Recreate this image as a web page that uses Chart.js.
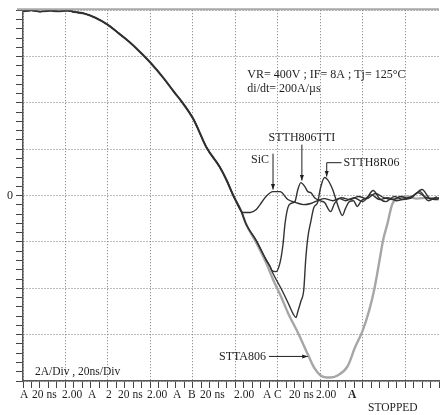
<!DOCTYPE html>
<html>
<head>
<meta charset="utf-8">
<script src="https://cdn.jsdelivr.net/npm/chart.js@4"></script>
<style>
  html, body { margin: 0; padding: 0; background: #fff; }
  canvas { display: block; }
</style>
</head>
<body>
<canvas id="myChart" width="442" height="415"></canvas>
<script>
// 時間 (ns) と電流 (A)
// 4本とも共通の立ち下がり部分
var commonTime = [0, 4, 8, 13, 17, 21, 24, 29, 34, 40, 45, 50, 55, 60, 66.4, 71.1, 74.8, 80.4, 86.5, 92.6, 95.8, 99.1, 102.9];
var commonCurrent = [7.96, 8.0, 7.94, 7.98, 7.95, 7.99, 7.93, 7.85, 7.68, 7.37, 7.01, 6.64, 6.21, 5.74, 5.05, 4.48, 4.05, 3.28, 2.07, 1.25, 0.69, 0, -0.69];

// STTH806TTI と STTH8R06 が重なっている部分
var darkTime = [105.2, 109.9, 114.5, 116.4];
var darkCurrent = [-1.25, -1.94, -2.76, -3.06];

// SiC
var sicTime = [103.8, 107.1, 109.9, 111.7, 114.5, 117.8, 121.1, 124.8, 128.6, 132.3, 135.6, 138.8, 142, 146, 150, 154, 158, 162, 166, 170, 174, 178, 182, 186, 190, 194, 196];
var sicCurrent = [-0.73, -0.73, -0.60, -0.39, -0.04, 0.17, 0.17, -0.17, -0.30, -0.39, -0.34, -0.22, -0.13, -0.22, -0.09, -0.17, -0.04, -0.13, 0.09, -0.09, -0.17, -0.04, -0.13, 0.13, -0.09, -0.17, -0.13];

// STTH806TTI
var ttiTime = [117.3, 119.2, 121.1, 122.5, 123.4, 124.8, 126.2, 128.1, 129.5, 130.9, 132.8, 134.2, 135.6, 137.4, 139.8, 142.1, 144.9, 146.8, 149.1, 152, 156, 160, 164, 168, 172, 176, 180, 184, 188, 192, 196];
var ttiCurrent = [-3.23, -3.28, -2.89, -2.11, -1.25, -0.52, -0.34, -0.26, 0.26, 0.56, 0.39, 0.17, 0.13, -0.09, -0.22, -0.30, -0.69, -0.34, -0.13, -0.22, -0.09, -0.26, 0.04, -0.17, -0.09, -0.22, -0.13, 0.0, 0.26, -0.13, -0.09];

// STTH8R06
var r06Time = [117.8, 121.6, 124.8, 127.2, 128.6, 129.5, 130.9, 132.3, 133.2, 134.2, 135.6, 137.0, 138.8, 140.2, 142.1, 143.5, 144.9, 145.9, 147.3, 148.7, 150.5, 151.9, 153.8, 155.7, 157.5, 159.4, 162, 165, 168, 171, 175, 179, 183, 187, 191, 195];
var r06Current = [-3.36, -4.01, -4.61, -5.09, -5.26, -5.0, -4.57, -4.05, -2.76, -1.81, -1.12, -0.52, -0.30, 0.34, 0.78, 0.69, 0.47, 0.26, -0.13, -0.52, -0.86, -0.56, -0.26, -0.22, -0.47, -0.22, -0.09, 0.22, -0.13, -0.26, -0.04, -0.17, -0.09, 0.17, -0.22, -0.04];

// STTA806
var sttaTime = [105.2, 109.9, 114.5, 117.8, 121.6, 124.8, 129.5, 134.2, 137.4, 140.2, 144.5, 148.2, 152.9, 156.6, 159.9, 163.2, 165.5, 167.8, 169.7, 171.6, 173.9, 176.3, 180.9, 185.6, 190.3, 195.9];
var sttaCurrent = [-1.25, -2.03, -2.89, -3.62, -4.36, -5.05, -5.91, -6.85, -7.46, -7.76, -7.85, -7.76, -7.37, -6.51, -5.86, -4.92, -4.05, -2.89, -1.90, -1.25, -0.39, -0.13, -0.04, -0.13, -0.09, -0.17];

// 軸の範囲と目盛り
var timeMin = 0, timeMax = 196, timeStep = 4, timeDiv = 20;
var currentMin = -8, currentMax = 8, currentStep = 0.4, currentDiv = 2;

function pts(t, a) {
  var out = [];
  for (var i = 0; i < t.length; i++) out.push({x: t[i], y: a[i]});
  return out;
}

function isMajor(v, div) {
  var r = v / div;
  return Math.abs(r - Math.round(r)) < 1e-6;
}

var serif = '"Liberation Serif", "Times New Roman", serif';

// 矢印を描く
function arrow(c, x1, y1, x2, y2) {
  var ang = Math.atan2(y2 - y1, x2 - x1), h = 6;
  c.beginPath(); c.moveTo(x1, y1); c.lineTo(x2, y2); c.stroke();
  c.beginPath();
  c.moveTo(x2, y2);
  c.lineTo(x2 - h * Math.cos(ang - 0.35), y2 - h * Math.sin(ang - 0.35));
  c.lineTo(x2 - h * Math.cos(ang + 0.35), y2 - h * Math.sin(ang + 0.35));
  c.closePath(); c.fill();
}

var notePlugin = {
  id: 'notes',
  afterDraw: function(chart) {
    var c = chart.ctx, xs = chart.scales.x, ys = chart.scales.y, area = chart.chartArea;
    function X(t) { return xs.getPixelForValue(t); }
    function Y(a) { return ys.getPixelForValue(a); }
    c.save();
    // 上の枠線
    c.strokeStyle = '#a9a9a9'; c.lineWidth = 2;
    c.beginPath(); c.moveTo(area.left - 6, area.top - 1); c.lineTo(area.right, area.top - 1); c.stroke();

    c.fillStyle = '#1e1e1e'; c.strokeStyle = '#1e1e1e'; c.lineWidth = 1;
    c.textBaseline = 'middle';
    c.font = '12px ' + serif;
    c.textAlign = 'left';
    c.fillText('VR= 400V ; IF= 8A ; Tj= 125°C', X(105.7), Y(5.22));
    c.fillText('di/dt= 200A/µs', X(105.7), Y(4.61));

    c.textAlign = 'center';
    c.fillText('STTH806TTI', X(131.4), Y(2.5));
    arrow(c, X(131.4), Y(2.2), X(131.4), Y(0.65));

    c.textAlign = 'right';
    c.fillText('SiC', X(115.9), Y(1.55));
    arrow(c, X(117.8), Y(1.81), X(117.8), Y(0.26));

    c.textAlign = 'left';
    c.fillText('STTH8R06', X(151.0), Y(1.42));
    c.beginPath(); c.moveTo(X(150.1), Y(1.42)); c.lineTo(X(143.1), Y(1.42)); c.stroke();
    arrow(c, X(143.1), Y(1.42), X(143.1), Y(0.82));

    c.textAlign = 'right';
    c.fillText('STTA806', X(114.5), Y(-6.94));
    arrow(c, X(115.9), Y(-6.94), X(134.2), Y(-6.94));

    c.textAlign = 'left';
    c.font = '11.5px ' + serif;
    c.fillText('2A/Div , 20ns/Div', X(5.6), Y(-7.63));

    // 画面下のオシロスコープ表示
    var row = [['A', 20], ['20 ns', 32], ['2.00', 62], ['A', 88], ['2', 106], ['20 ns', 118], ['2.00', 147],
               ['A', 173], ['B', 188], ['20 ns', 200], ['2.00', 234], ['A', 263], ['C', 274], ['20 ns', 289], ['2.00', 316]];
    for (var i = 0; i < row.length; i++) c.fillText(row[i][0], row[i][1], 395);
    c.font = 'bold 11.5px ' + serif;
    c.fillText('A', 348, 395);
    c.font = '11.5px ' + serif;
    c.fillText('STOPPED', 368, 408);
    c.restore();
  }
};

var ctx = document.getElementById('myChart');

var data = {
  datasets: [{
    label: 'SiC',
    data: pts(commonTime.concat(sicTime), commonCurrent.concat(sicCurrent)),
    borderColor: '#2f2f2f', borderWidth: 1.4
  }, {
    label: 'STTH806TTI',
    data: pts(commonTime.concat(darkTime, ttiTime), commonCurrent.concat(darkCurrent, ttiCurrent)),
    borderColor: '#333333', borderWidth: 1.4
  }, {
    label: 'STTH8R06',
    data: pts(commonTime.concat(darkTime, r06Time), commonCurrent.concat(darkCurrent, r06Current)),
    borderColor: '#333333', borderWidth: 1.4
  }, {
    label: 'STTA806',
    data: pts(commonTime.concat(sttaTime), commonCurrent.concat(sttaCurrent)),
    borderColor: '#a6a6a6', borderWidth: 2.4
  }]
};

var myChart = new Chart(ctx, {
  type: 'line',
  data: data,
  options: {
    responsive: false,
    animation: false,
    layout: { padding: { top: 10, right: 0, bottom: 0, left: 0 } },
    elements: { point: { radius: 0 }, line: { cubicInterpolationMode: 'monotone', fill: false } },
    plugins: { legend: { display: false }, tooltip: { enabled: false } },
    scales: {
      x: {
        type: 'linear', min: timeMin, max: timeMax,
        ticks: {
          stepSize: timeStep, autoSkip: false, maxTicksLimit: 100, maxRotation: 0,
          callback: function() { return ''; }
        },
        grid: {
          color: function(c) { return isMajor(c.tick.value, timeDiv) ? '#7a7a7a' : 'rgba(0,0,0,0)'; },
          tickColor: '#444', tickLength: 7, lineWidth: 1
        },
        border: { display: true, color: '#555', width: 1.5, dash: [1, 2] },
        afterFit: function(s) { s.height = 34; }
      },
      y: {
        min: currentMin, max: currentMax,
        ticks: {
          stepSize: currentStep, autoSkip: false, maxTicksLimit: 100, padding: 3,
          color: '#1e1e1e', font: { family: serif, size: 12 },
          callback: function(v) { return Math.abs(v) < 1e-6 ? '0' : ''; }
        },
        grid: {
          color: function(c) { return isMajor(c.tick.value, currentDiv) ? '#7a7a7a' : 'rgba(0,0,0,0)'; },
          tickColor: '#444', tickLength: 7, lineWidth: 1
        },
        border: { display: true, color: '#555', width: 1.5, dash: [1, 2] },
        afterFit: function(s) { s.width = 23; }
      }
    }
  },
  plugins: [notePlugin]
});
</script>
</body>
</html>
